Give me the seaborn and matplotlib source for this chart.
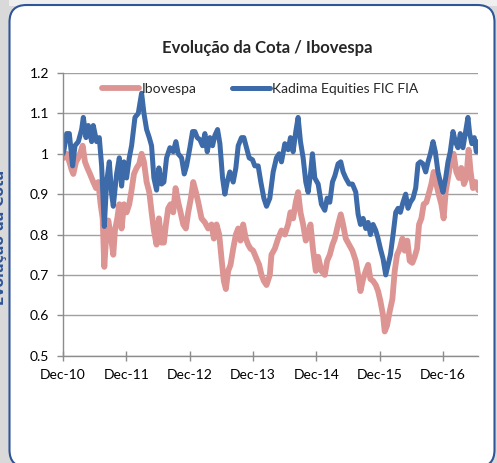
import numpy as np
import pandas as pd
import matplotlib
matplotlib.use("Agg")
import matplotlib.pyplot as plt
import seaborn as sns
from matplotlib.patches import FancyBboxPatch, Rectangle
from matplotlib.transforms import IdentityTransform

# years after Dec-10
ibov_t = [0.0, 0.016, 0.058, 0.10, 0.137, 0.163, 0.205, 0.242, 0.279, 0.310, 0.347, 0.384, 0.426,
          0.478, 0.521, 0.557, 0.594, 0.626, 0.652, 0.678, 0.715, 0.752, 0.794, 0.820, 0.857, 0.889,
          0.925, 0.962, 1.004, 1.046, 1.083, 1.120, 1.162, 1.204, 1.241, 1.278, 1.320, 1.362, 1.399,
          1.435, 1.477, 1.514, 1.556, 1.593, 1.625, 1.661, 1.698, 1.740, 1.777, 1.819, 1.856, 1.898,
          1.940, 1.977, 2.019, 2.056, 2.098, 2.135, 2.187, 2.240, 2.292, 2.345, 2.382, 2.424, 2.466,
          2.503, 2.539, 2.571, 2.608, 2.645, 2.687, 2.729, 2.766, 2.802, 2.844, 2.886, 2.923, 2.960,
          3.002, 3.055, 3.097, 3.134, 3.171, 3.213, 3.265, 3.291, 3.344, 3.396, 3.449, 3.502, 3.554,
          3.591, 3.633, 3.675, 3.712, 3.749, 3.791, 3.833, 3.870, 3.907, 3.949, 3.991, 4.028, 4.080,
          4.133, 4.170, 4.212, 4.254, 4.291, 4.343, 4.385, 4.422, 4.464, 4.517, 4.569, 4.622, 4.659,
          4.696, 4.738, 4.780, 4.817, 4.853, 4.895, 4.938, 4.974, 5.011, 5.053, 5.079, 5.116, 5.158,
          5.200, 5.237, 5.274, 5.316, 5.358, 5.394, 5.436, 5.473, 5.515, 5.552, 5.589, 5.621, 5.658,
          5.694, 5.737, 5.773, 5.815, 5.852, 5.894, 5.931, 5.973, 6.009, 6.041, 6.078, 6.130, 6.167,
          6.209, 6.251, 6.288, 6.330, 6.367, 6.404, 6.435, 6.472, 6.514, 6.556]
ibov = [1.00, 0.99, 1.00, 0.98, 0.96, 0.95, 0.98, 0.99, 1.005, 1.02, 0.98, 0.965, 0.95,
        0.93, 0.915, 0.93, 0.875, 0.84, 0.72, 0.785, 0.835, 0.80, 0.75, 0.81, 0.84, 0.875,
        0.815, 0.875, 0.855, 0.875, 0.91, 0.95, 0.965, 0.975, 1.00, 0.98, 0.93, 0.905, 0.855,
        0.81, 0.775, 0.84, 0.78, 0.78, 0.825, 0.865, 0.875, 0.855, 0.915, 0.88, 0.855, 0.825,
        0.815, 0.855, 0.89, 0.93, 0.905, 0.88, 0.84, 0.83, 0.815, 0.825, 0.79, 0.825, 0.80,
        0.74, 0.685, 0.665, 0.71, 0.725, 0.765, 0.80, 0.815, 0.785, 0.825, 0.79, 0.775, 0.765,
        0.76, 0.74, 0.725, 0.70, 0.685, 0.675, 0.70, 0.75, 0.765, 0.79, 0.81, 0.80, 0.825,
        0.855, 0.84, 0.88, 0.905, 0.855, 0.825, 0.785, 0.80, 0.825, 0.76, 0.71, 0.745, 0.71,
        0.70, 0.735, 0.75, 0.775, 0.79, 0.825, 0.85, 0.825, 0.79, 0.775, 0.76, 0.735, 0.70,
        0.66, 0.69, 0.71, 0.725, 0.69, 0.685, 0.675, 0.66, 0.635, 0.60, 0.56, 0.575, 0.61,
        0.64, 0.71, 0.75, 0.765, 0.79, 0.76, 0.785, 0.735, 0.73, 0.745, 0.765, 0.825, 0.84,
        0.875, 0.88, 0.90, 0.925, 0.955, 0.925, 0.90, 0.875, 0.84, 0.905, 0.94, 0.99, 1.00,
        0.955, 0.94, 0.965, 0.925, 0.94, 1.01, 0.955, 0.915, 0.93, 0.91]

kadima_t = [0.0, 0.016, 0.058, 0.10, 0.152, 0.189, 0.242, 0.294, 0.321, 0.363, 0.40, 0.452, 0.478,
            0.531, 0.573, 0.61, 0.652, 0.689, 0.731, 0.768, 0.794, 0.846, 0.889, 0.925, 0.962, 1.004,
            1.046, 1.083, 1.136, 1.188, 1.241, 1.278, 1.32, 1.362, 1.398, 1.435, 1.477, 1.514, 1.556,
            1.593, 1.635, 1.688, 1.74, 1.782, 1.819, 1.872, 1.914, 1.951, 2.003, 2.045, 2.082, 2.119,
            2.161, 2.203, 2.24, 2.277, 2.319, 2.361, 2.397, 2.44, 2.477, 2.519, 2.555, 2.592, 2.634,
            2.687, 2.729, 2.766, 2.818, 2.855, 2.897, 2.939, 2.992, 3.028, 3.081, 3.123, 3.171, 3.213,
            3.265, 3.318, 3.37, 3.412, 3.449, 3.502, 3.554, 3.591, 3.633, 3.675, 3.712, 3.749, 3.791,
            3.833, 3.87, 3.907, 3.938, 3.975, 4.028, 4.080, 4.133, 4.170, 4.212, 4.254, 4.291, 4.343,
            4.385, 4.422, 4.464, 4.517, 4.569, 4.622, 4.659, 4.696, 4.738, 4.780, 4.817, 4.853, 4.895,
            4.938, 4.974, 5.011, 5.053, 5.095, 5.132, 5.169, 5.211, 5.253, 5.290, 5.326, 5.368, 5.410,
            5.447, 5.484, 5.526, 5.568, 5.605, 5.642, 5.684, 5.726, 5.763, 5.800, 5.842, 5.878, 5.920,
            5.957, 5.999, 6.041, 6.078, 6.114, 6.157, 6.194, 6.236, 6.272, 6.314, 6.356, 6.393, 6.420,
            6.456, 6.493, 6.525, 6.556]
kadima = [1.00, 1.01, 1.05, 1.05, 0.97, 1.02, 1.03, 1.06, 1.09, 1.04, 1.07, 1.03, 1.07,
          1.03, 1.04, 0.97, 0.82, 0.93, 0.98, 0.90, 0.87, 0.95, 0.99, 0.92, 0.98, 0.94,
          0.99, 1.02, 1.09, 1.10, 1.15, 1.10, 1.06, 1.04, 1.02, 0.94, 0.91, 0.965, 0.925,
          0.93, 0.99, 1.015, 1.005, 1.03, 1.00, 0.99, 0.95, 0.97, 1.015, 1.055, 1.055, 1.04,
          1.035, 1.02, 1.05, 1.005, 1.04, 1.02, 1.045, 1.06, 1.025, 0.94, 0.90, 0.93, 0.955,
          0.93, 0.965, 1.02, 1.04, 1.04, 1.015, 0.99, 0.985, 0.97, 0.97, 0.93, 0.89, 0.87,
          0.89, 0.955, 0.99, 1.00, 0.98, 1.025, 1.01, 1.04, 1.005, 1.055, 1.09, 1.03, 0.99,
          0.93, 0.905, 0.95, 1.00, 0.94, 0.925, 0.875, 0.86, 0.89, 0.88, 0.93, 0.945, 0.975,
          0.98, 0.955, 0.94, 0.925, 0.925, 0.905, 0.85, 0.825, 0.84, 0.815, 0.83, 0.80, 0.825,
          0.81, 0.79, 0.765, 0.74, 0.70, 0.725, 0.75, 0.80, 0.855, 0.865, 0.855, 0.88, 0.90,
          0.865, 0.88, 0.89, 0.915, 0.975, 0.98, 0.975, 0.955, 0.98, 1.00, 1.03, 1.005, 0.955,
          0.93, 0.905, 0.94, 0.98, 1.005, 1.055, 1.03, 1.015, 1.05, 1.015, 1.055, 1.09, 1.05,
          1.025, 1.04, 1.005, 1.03]

y_ticks = [0.5, 0.6, 0.7, 0.8, 0.9, 1.0, 1.1, 1.2]
y_labels = ["0.5", "0.6", "0.7", "0.8", "0.9", "1", "1.1", "1.2"]
x_years = [2010, 2011, 2012, 2013, 2014, 2015, 2016]
x_labels = ["Dec-10", "Dec-11", "Dec-12", "Dec-13", "Dec-14", "Dec-15", "Dec-16"]

base = pd.Timestamp("2010-12-31")
df_ibov = pd.DataFrame({"date": base + pd.to_timedelta(np.array(ibov_t) * 365.25, unit="D"),
                        "cota": ibov})
df_kad = pd.DataFrame({"date": base + pd.to_timedelta(np.array(kadima_t) * 365.25, unit="D"),
                       "cota": kadima})

sns.set_style("white")
plt.rcParams["font.family"] = ["Lato", "DejaVu Sans"]

W, H = 497, 463
fig = plt.figure(figsize=(W / 100, H / 100), dpi=100, facecolor="#d9d9d9")

# background strip on top + rounded white panel
fig.add_artist(Rectangle((9, H - 6), W, 6, transform=IdentityTransform(),
                         facecolor="#efefef", edgecolor="none", zorder=-10))
fig.add_artist(FancyBboxPatch((9.5, -4), 485, H - 1, boxstyle="round,pad=0,rounding_size=17",
                              transform=IdentityTransform(), facecolor="white",
                              edgecolor="#2f5597", linewidth=1.5, zorder=-5))
# side label, mostly cut off by the left edge like in the source image
fig.text(7 / W, 1 - 237 / H, "Evolução da Cota", rotation=90, ha="right", va="center",
         fontsize=10, fontweight="bold", color="#2f5597", family="DejaVu Sans")

ax = fig.add_axes([63 / W, 1 - 355.7 / H, 415 / W, 282.7 / H])
ax.set_facecolor("none")

sns.lineplot(data=df_ibov, x="date", y="cota", ax=ax, color="#dc9593", lw=4.2,
             label="Ibovespa", solid_capstyle="round")
sns.lineplot(data=df_kad, x="date", y="cota", ax=ax, color="#3d6aa8", lw=3.6,
             label="Kadima Equities FIC FIA", solid_capstyle="round")

ax.set_ylim(0.5, 1.2)
ax.set_yticks(y_ticks)
ax.set_yticklabels(y_labels)
ax.set_xlim(base, pd.Timestamp("2017-07-20"))
ax.set_xticks([pd.Timestamp(f"{y}-12-31") for y in x_years])
ax.set_xticklabels(x_labels)
ax.set_xlabel("")
ax.set_ylabel("")

ax.grid(axis="y", color="#a0a0a0", lw=1.0)
ax.grid(axis="x", visible=False)
for s in ["top", "right"]:
    ax.spines[s].set_visible(False)
for s in ["left", "bottom"]:
    ax.spines[s].set_color("#8c8c8c")
    ax.spines[s].set_linewidth(1.0)
ax.tick_params(axis="y", direction="out", length=4, width=1, color="#8c8c8c",
               pad=6, labelsize=10, labelcolor="black", left=True)
ax.tick_params(axis="x", direction="inout", length=7, width=1, color="#8c8c8c",
               pad=6, labelsize=10, labelcolor="black", bottom=True)

ax.legend(loc="center", bbox_to_anchor=(0.475, 0.943), ncol=2, frameon=False,
          fontsize=10, handlelength=2.7, handletextpad=0.15, columnspacing=2.6)

fig.text(267 / W, 1 - 48 / H, "Evolução da Cota / Ibovespa", ha="center", va="center",
         fontsize=12, fontweight="bold")

fig.savefig("out.png", dpi=100, facecolor=fig.get_facecolor())
